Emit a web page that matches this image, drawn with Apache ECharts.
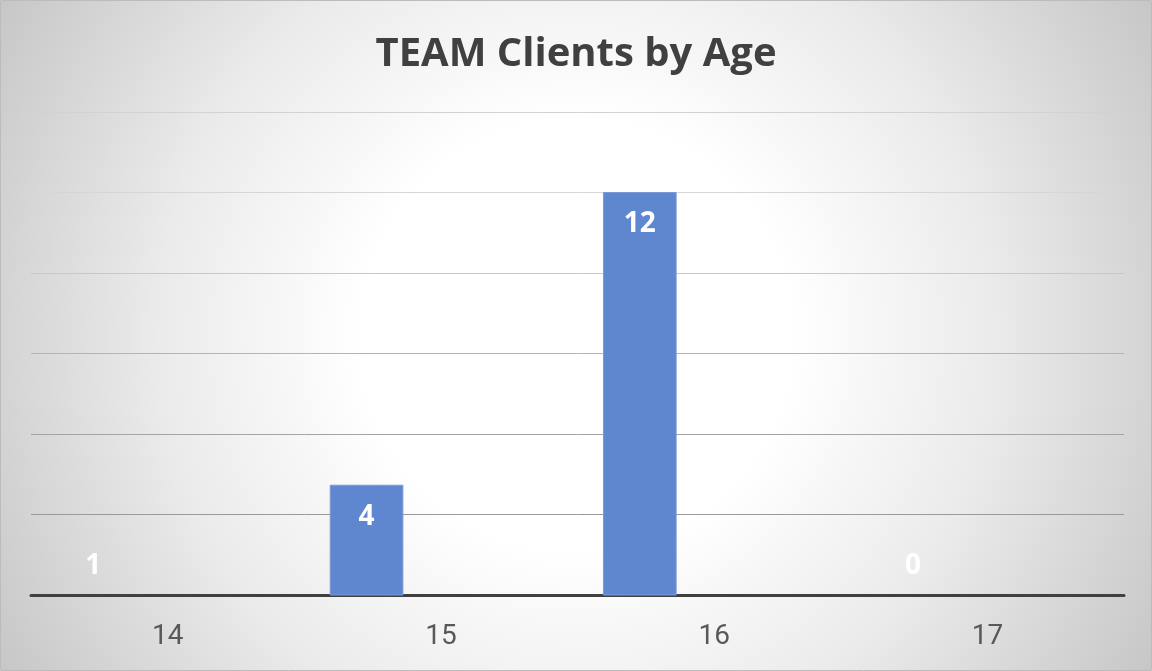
<!DOCTYPE html>
<html>
<head>
<meta charset="utf-8">
<script src="https://cdn.jsdelivr.net/npm/echarts@6/dist/echarts.min.js"></script>
<style>html,body{margin:0;padding:0;}#chart{width:1152px;height:671px;}</style>
</head>
<body>
<div id="chart"></div>
<script>
const titleText = 'TEAM Clients by Age';
const categories = ['14', '15', '16', '17'];
const clients = [1, 4, 12, 0];
const valueAxisMin = 1;
const valueAxisMax = 14.2;
const gridSteps = 6;

const chart = echarts.init(document.getElementById('chart'), null, { renderer: 'canvas' });

const option = {
  animation: false,
  graphic: [{
    type: 'rect', z: -10, silent: true,
    shape: { x: 0.5, y: 0.5, width: 1151, height: 670 },
    style: {
      fill: {
        type: 'radial', x: 0.5, y: 0.5, r: 1.0,
        colorStops: [
          { offset: 0, color: '#ffffff' },
          { offset: 0.32, color: '#ffffff' },
          { offset: 0.62, color: '#ebebeb' },
          { offset: 1, color: '#c6c6c6' }
        ]
      },
      stroke: '#bcbcbc', lineWidth: 1
    }
  }],
  title: {
    text: titleText,
    left: 'center',
    top: 27,
    textStyle: { fontFamily: '"Open Sans"', fontWeight: 'bold', fontSize: 40, color: '#404040', lineHeight: 46 }
  },
  grid: { left: 31, right: 28, top: 112, bottom: 76, containLabel: false },
  xAxis: {
    type: 'category',
    data: categories,
    axisLine: { show: true, lineStyle: { color: '#404040', width: 3 } },
    axisTick: { show: false },
    axisLabel: { color: '#595959', fontSize: 28, fontFamily: '"Liberation Sans Narrow", "Roboto"', margin: 28 },
    splitLine: { show: false }
  },
  yAxis: [
    {
      type: 'value', min: valueAxisMin, max: valueAxisMax,
      show: false, splitLine: { show: false }
    },
    {
      type: 'value', min: 0, max: gridSteps, interval: 1,
      axisLine: { show: false }, axisTick: { show: false }, axisLabel: { show: false },
      splitLine: { show: true, lineStyle: { width: 1, color: ['#999999', '#9a9a9a', '#a4a4a4', '#b4b4b4', '#c8c8c8', '#d6d6d6', '#d2d2d2'] } }
    }
  ],
  series: [{
    type: 'custom',
    yAxisIndex: 0,
    clip: false,
    data: categories.map((c, i) => [c, clients[i]]),
    encode: { x: 0, y: 1 },
    renderItem: function (params, api) {
      const idx = api.value(0);
      const v = api.value(1);
      const top = api.coord([idx, Math.max(v, valueAxisMin)]);
      const base = api.coord([idx, valueAxisMin]);
      const band = api.size([1, 0])[0];
      const w = band * 0.266;
      const cx = top[0] - band * 0.272;
      const labelY = Math.min(top[1] + 32, base[1] - 29);
      return {
        type: 'group',
        children: [
          { type: 'rect', shape: { x: cx - w / 2, y: top[1], width: w, height: base[1] - top[1] },
            style: { fill: '#5e87cf', stroke: '#7a9bd8', lineWidth: base[1] - top[1] > 0 ? 1 : 0 } },
          { type: 'text', z2: 10, style: { text: String(v), x: cx, y: labelY, align: 'center', verticalAlign: 'middle',
            fill: '#ffffff', font: 'bold 28px "Open Sans"' } }
        ]
      };
    }
  }]
};
chart.setOption(option);
</script>
</body>
</html>
